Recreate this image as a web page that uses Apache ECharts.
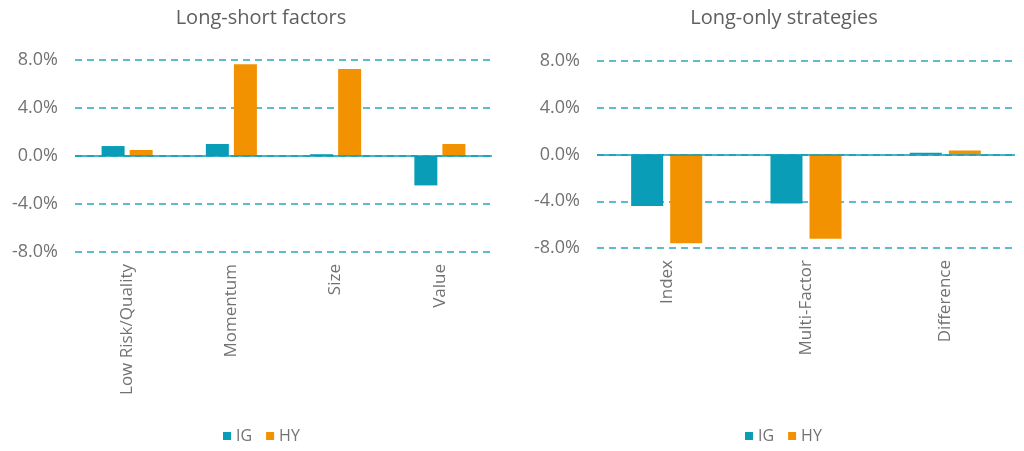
<!DOCTYPE html>
<html>
<head>
<meta charset="utf-8">
<script src="https://cdn.jsdelivr.net/npm/echarts@6/dist/echarts.min.js"></script>
<style>html,body{margin:0;padding:0;background:#fff;}#c{width:1024px;height:451px;}</style>
</head>
<body>
<div id="c"></div>
<script>
const leftCategories = ['Low Risk/Quality', 'Momentum', 'Size', 'Value'];
const leftIG = [0.83, 1.0, 0.15, -2.45];
const leftHY = [0.5, 7.65, 7.25, 1.0];
const rightCategories = ['Index', 'Multi-Factor', 'Difference'];
const rightIG = [-4.4, -4.2, 0.15];
const rightHY = [-7.6, -7.2, 0.35];
const yTicks = { min: -8, max: 8, interval: 4 };
const titles = ['Long-short factors', 'Long-only strategies'];
const seriesNames = ['IG', 'HY'];

const IGC = '#0A9DB7', HYC = '#F39200', GRID = '#2AA6BC', TXT = '#727272';
const FONT = 'Open Sans';

function yAxis(idx) {
  return {
    type: 'value', gridIndex: idx, min: yTicks.min, max: yTicks.max, interval: yTicks.interval,
    axisLine: { show: false }, axisTick: { show: false },
    axisLabel: { formatter: v => v.toFixed(1) + '%', color: TXT, fontSize: 18, fontFamily: FONT, margin: 17 },
    splitLine: { lineStyle: { color: GRID, type: [7, 5], width: 1.6 } }
  };
}
function xAxis(idx, cats) {
  return {
    type: 'category', gridIndex: idx, data: cats,
    axisLine: { show: false }, axisTick: { show: false },
    axisLabel: { rotate: 90, color: TXT, fontSize: 17, fontFamily: FONT, margin: 12, interval: 0 }
  };
}
const zeroLine = {
  silent: true, symbol: 'none', label: { show: false },
  lineStyle: { type: 'solid', color: IGC, width: 1.6 },
  data: [{ yAxis: 0 }]
};
function bars(name, color, idx, data, w, withZero) {
  const s = {
    name: name, type: 'bar', xAxisIndex: idx, yAxisIndex: idx, data: data,
    barWidth: w, barGap: '22%', itemStyle: { color: color }
  };
  if (withZero) s.markLine = zeroLine;
  return s;
}

const chart = echarts.init(document.getElementById('c'), null, { renderer: 'canvas' });
chart.setOption({
  animation: false,
  textStyle: { fontFamily: FONT },
  title: [
    { text: titles[0], left: 256, top: 3, textAlign: 'center', textStyle: { color: '#5f5f5f', fontSize: 20, fontWeight: 'normal', fontFamily: FONT } },
    { text: titles[1], left: 779, top: 3, textAlign: 'center', textStyle: { color: '#5f5f5f', fontSize: 20, fontWeight: 'normal', fontFamily: FONT } }
  ],
  legend: [
    { data: seriesNames, left: 218, top: 423, itemWidth: 8, itemHeight: 8, itemGap: 14, icon: 'rect', textStyle: { color: TXT, fontSize: 16, fontFamily: FONT }, selectedMode: false },
    { data: seriesNames, left: 740, top: 423, itemWidth: 8, itemHeight: 8, itemGap: 14, icon: 'rect', textStyle: { color: TXT, fontSize: 16, fontFamily: FONT }, selectedMode: false }
  ],
  grid: [
    { left: 75, top: 60, width: 417, height: 192 },
    { left: 597, top: 61, width: 418, height: 187 }
  ],
  xAxis: [xAxis(0, leftCategories), xAxis(1, rightCategories)],
  yAxis: [yAxis(0), yAxis(1)],
  series: [
    bars(seriesNames[0], IGC, 0, leftIG, 23, true),
    bars(seriesNames[1], HYC, 0, leftHY, 23, false),
    bars(seriesNames[0], IGC, 1, rightIG, 32, true),
    bars(seriesNames[1], HYC, 1, rightHY, 32, false)
  ]
});
</script>
</body>
</html>
